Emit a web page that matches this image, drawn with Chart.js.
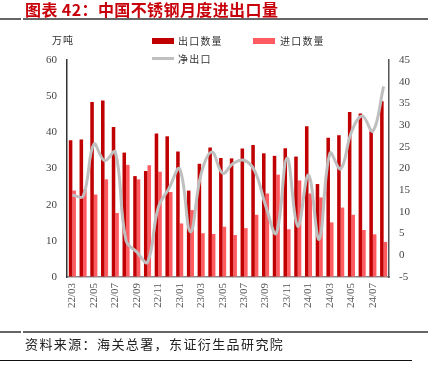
<!DOCTYPE html>
<html>
<head>
<meta charset="utf-8">
<script src="https://cdn.jsdelivr.net/npm/chart.js@4"></script>
<style>
body{margin:0;width:430px;height:370px;position:relative;background:#fff;overflow:hidden;font-family:"Noto Sans CJK SC",sans-serif;color:#333}
#wrap{position:absolute;left:0;top:0;width:430px;height:370px}
.abs{position:absolute;white-space:nowrap}
#title{left:25px;top:-3px;font-size:16px;font-weight:bold;color:#C8000A;letter-spacing:0.4px}
.rule{position:absolute;height:2px;background:#666}
#unit{left:52px;top:32px;font-size:10px;letter-spacing:1px}
.sw{position:absolute;width:22px;height:6px}
.lg{font-size:10px;letter-spacing:1.2px}
#foot{left:25px;top:334px;font-size:13px;letter-spacing:1.4px;color:#222}
</style>
</head>
<body>
<div id="wrap"><canvas id="chart" width="430" height="370"></canvas></div>
<div class="abs" id="title">图表 42：中国不锈钢月度进出口量</div>
<div class="rule" style="left:0;top:18px;width:21px"></div>
<div class="rule" style="left:23px;top:18px;width:405px"></div>
<div class="abs" id="unit">万吨</div>
<div class="sw" style="left:152px;top:38px;background:#C00000"></div>
<div class="abs lg" style="left:178px;top:33px">出口数量</div>
<div class="sw" style="left:253px;top:38px;background:#FF5B61"></div>
<div class="abs lg" style="left:280px;top:33px">进口数量</div>
<div class="sw" style="left:152px;top:57px;height:3px;background:#BFBFBF"></div>
<div class="abs lg" style="left:178px;top:51px">净出口</div>
<div class="rule" style="left:0;top:331px;width:21px"></div>
<div class="rule" style="left:23px;top:331px;width:405px"></div>
<div class="abs" id="foot">资料来源：海关总署，东证衍生品研究院</div>
<div class="rule" style="left:0;top:360px;width:412px;height:1px;background:#111"></div>
<script>
const months = ['22/03','22/04','22/05','22/06','22/07','22/08','22/09','22/10','22/11','22/12',
  '23/01','23/02','23/03','23/04','23/05','23/06','23/07','23/08','23/09','23/10','23/11','23/12',
  '24/01','24/02','24/03','24/04','24/05','24/06','24/07','24/08']
const chukou = [37.8,38.0,48.4,48.8,41.5,34.4,27.9,29.3,39.7,38.9,
  34.7,23.9,31.3,35.8,32.9,32.8,35.5,36.5,34.2,33.5,35.6,33.3,
  41.7,25.7,38.5,39.2,45.6,45.2,40.3,48.6]
const jinkou = [23.9,24.2,22.8,27.0,17.7,31.0,27.0,30.9,29.1,23.5,
  14.8,18.5,12.1,11.9,13.9,11.6,13.5,17.2,23.1,28.3,13.2,26.7,
  23.1,22.0,15.1,19.2,17.2,13.0,11.8,9.7]
const jingchukou = [13.9,13.6,25.6,21.8,23.8,3.4,0.8,-1.6,11.0,15.4,
  19.9,5.4,18.8,23.8,18.9,21.2,21.9,19.4,11.5,5.1,22.4,6.7,
  18.5,3.7,23.5,19.9,28.4,32.1,28.6,38.9]

const serif = {family: 'Liberation Serif', size: 11}

new Chart(document.getElementById('chart'), {
  type: 'bar',
  data: {
    labels: months,
    datasets: [
      {
        type: 'line',
        label: '净出口',
        data: jingchukou,
        yAxisID: 'y1',
        borderColor: '#BFBFBF',
        borderWidth: 3,
        pointRadius: 0,
        tension: 0.4,
        order: 0
      },
      {
        label: '出口数量',
        data: chukou,
        yAxisID: 'y',
        backgroundColor: '#C00000',
        categoryPercentage: 0.66,
        barPercentage: 1.0,
        order: 1
      },
      {
        label: '进口数量',
        data: jinkou,
        yAxisID: 'y',
        backgroundColor: '#FF5B61',
        categoryPercentage: 0.66,
        barPercentage: 1.0,
        order: 1
      }
    ]
  },
  options: {
    responsive: false,
    animation: false,
    layout: {padding: {top: 60, left: 0, right: 0, bottom: 0}},
    plugins: {legend: {display: false}, tooltip: {enabled: false}},
    scales: {
      x: {
        grid: {drawOnChartArea: false, drawTicks: false},
        border: {color: '#888', width: 1.5},
        ticks: {
          autoSkip: false, maxRotation: 90, minRotation: 90, padding: 6,
          font: serif, color: '#555',
          callback: (v, i) => i % 2 === 0 ? months[i] : ''
        },
        afterFit: s => { s.height = 93 }
      },
      y: {
        position: 'left',
        min: 0, max: 60,
        grid: {drawOnChartArea: false, drawTicks: false},
        border: {color: '#333', width: 1.5},
        ticks: {stepSize: 10, padding: 10, font: serif, color: '#444'},
        afterFit: s => { s.width = 67 }
      },
      y1: {
        position: 'right',
        min: -5, max: 45,
        grid: {drawOnChartArea: false, drawTicks: false},
        border: {color: '#555', width: 1.5},
        ticks: {stepSize: 5, padding: 10, font: serif, color: '#444'},
        afterFit: s => { s.width = 41 }
      }
    }
  }
})
</script>
</body>
</html>
